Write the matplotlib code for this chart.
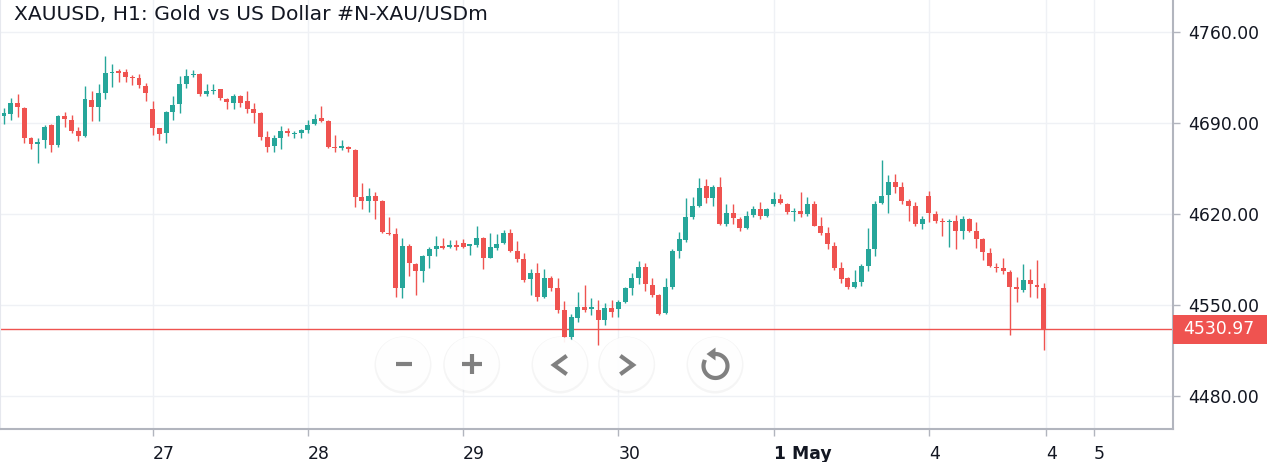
import numpy as np
import matplotlib.pyplot as plt
from matplotlib.patches import Circle, Polygon, Rectangle
from matplotlib.transforms import blended_transform_factory

# hourly XAUUSD candles
opens = [4695.4, 4696.5, 4705.4, 4701.6, 4678.0, 4673.4, 4676.7, 4688.2, 4672.9, 4695.2,
         4692.1, 4683.6, 4679.8, 4707.5, 4702.3, 4713.1, 4728.0, 4729.8, 4729.2, 4724.9,
         4724.6, 4718.2, 4700.3, 4685.7, 4681.9, 4698.5, 4704.4, 4719.8, 4726.5, 4727.5,
         4711.9, 4714.4, 4715.7, 4708.0, 4705.4, 4710.6, 4706.7, 4700.3, 4697.7, 4679.2,
         4672.1, 4678.5, 4683.6, 4681.1, 4682.3, 4684.4, 4688.8, 4693.4, 4691.3, 4671.6,
         4670.8, 4671.6, 4669.0, 4632.6, 4630.0, 4633.9, 4630.0, 4604.9, 4604.2, 4562.6,
         4595.2, 4581.1, 4575.9, 4587.5, 4592.6, 4595.2, 4594.6, 4595.9, 4597.2, 4595.4,
         4595.9, 4601.6, 4586.2, 4593.9, 4597.2, 4604.9, 4591.3, 4584.9, 4569.6, 4574.2,
         4556.2, 4570.3, 4562.6, 4545.9, 4525.4, 4539.6, 4548.5, 4546.5, 4545.9, 4538.2,
         4547.2, 4546.5, 4552.3, 4562.6, 4570.8, 4579.2, 4565.2, 4557.5, 4543.4, 4563.9,
         4591.3, 4599.8, 4617.2, 4626.2, 4641.6, 4631.9, 4640.3, 4612.1, 4620.8, 4615.7,
         4609.2, 4619.0, 4623.4, 4618.5, 4627.5, 4631.3, 4627.5, 4621.1, 4622.3, 4619.8,
         4627.5, 4610.8, 4604.9, 4595.2, 4578.0, 4570.3, 4563.9, 4567.7, 4579.8, 4592.6,
         4628.0, 4634.4, 4644.2, 4640.3, 4630.0, 4626.2, 4612.1, 4633.9, 4619.6, 4614.4,
         4613.9, 4614.4, 4606.9, 4615.7, 4606.9, 4600.3, 4590.0, 4579.2, 4578.0, 4575.4,
         4563.9, 4561.3, 4569.0, 4565.2, 4562.6]
highs = [4701.1, 4708.8, 4711.9, 4702.3, 4679.2, 4678.0, 4688.2, 4689.0, 4695.9, 4698.5,
         4695.9, 4686.9, 4718.2, 4714.6, 4719.6, 4741.6, 4735.2, 4731.1, 4731.3, 4726.7,
         4727.2, 4720.3, 4706.7, 4686.2, 4699.0, 4710.6, 4725.9, 4731.1, 4730.6, 4728.0,
         4719.6, 4719.6, 4716.2, 4709.2, 4711.9, 4711.0, 4714.4, 4705.4, 4698.2, 4683.6,
         4680.6, 4687.5, 4685.7, 4683.6, 4684.8, 4692.1, 4696.5, 4702.9, 4691.8, 4680.6,
         4676.7, 4672.1, 4669.5, 4643.4, 4640.0, 4636.9, 4630.5, 4617.2, 4609.2, 4601.6,
         4596.5, 4582.3, 4588.2, 4594.6, 4602.9, 4601.1, 4599.8, 4599.8, 4600.3, 4596.8,
         4610.6, 4602.0, 4605.4, 4604.2, 4607.5, 4608.0, 4599.0, 4589.6, 4577.2, 4581.9,
         4577.2, 4572.1, 4570.3, 4552.9, 4542.6, 4560.0, 4565.2, 4554.9, 4553.6, 4551.1,
         4553.6, 4553.6, 4563.9, 4574.2, 4583.6, 4581.9, 4570.3, 4558.0, 4570.3, 4592.6,
         4606.2, 4631.9, 4632.6, 4647.7, 4646.7, 4642.1, 4648.0, 4627.2, 4627.2, 4617.7,
         4622.1, 4625.9, 4628.8, 4624.2, 4636.5, 4634.9, 4628.5, 4624.2, 4636.5, 4632.6,
         4630.0, 4617.2, 4610.0, 4598.5, 4583.1, 4571.6, 4576.7, 4581.1, 4609.2, 4630.0,
         4661.3, 4649.8, 4650.6, 4644.2, 4631.3, 4628.8, 4618.5, 4637.7, 4622.1, 4616.9,
         4615.9, 4619.0, 4618.2, 4616.9, 4613.9, 4601.6, 4593.9, 4581.9, 4585.7, 4576.7,
         4571.6, 4581.1, 4577.2, 4584.4, 4566.5]
lows = [4689.0, 4692.1, 4694.6, 4674.6, 4669.6, 4658.8, 4670.3, 4667.7, 4671.6, 4686.9,
        4681.9, 4675.9, 4679.2, 4691.3, 4691.3, 4708.2, 4717.7, 4721.6, 4721.6, 4719.0,
        4716.5, 4706.7, 4680.6, 4676.7, 4674.6, 4692.1, 4697.7, 4716.5, 4724.9, 4710.6,
        4710.6, 4711.9, 4707.5, 4700.3, 4700.3, 4702.3, 4697.7, 4690.0, 4676.7, 4667.7,
        4667.7, 4669.6, 4679.8, 4678.5, 4678.5, 4682.3, 4688.2, 4690.8, 4670.3, 4667.7,
        4669.0, 4667.7, 4624.9, 4623.6, 4621.1, 4615.9, 4604.9, 4603.8, 4556.2, 4554.9,
        4572.1, 4557.5, 4567.7, 4578.5, 4587.5, 4592.6, 4593.4, 4592.1, 4593.4, 4588.2,
        4594.6, 4577.2, 4585.8, 4592.1, 4596.5, 4590.9, 4583.1, 4567.7, 4557.5, 4552.9,
        4554.9, 4560.6, 4543.4, 4521.3, 4522.9, 4536.9, 4544.6, 4542.1, 4519.0, 4534.4,
        4540.8, 4540.8, 4551.1, 4557.5, 4565.7, 4560.6, 4556.2, 4542.1, 4543.0, 4561.9,
        4586.2, 4598.5, 4615.9, 4624.9, 4628.0, 4626.2, 4611.7, 4610.8, 4612.1, 4606.9,
        4608.2, 4617.7, 4615.9, 4617.2, 4626.2, 4627.5, 4619.6, 4614.6, 4617.2, 4618.5,
        4610.4, 4603.6, 4592.9, 4576.7, 4566.5, 4561.9, 4562.6, 4564.4, 4575.9, 4587.5,
        4627.5, 4620.8, 4635.7, 4627.5, 4614.6, 4610.8, 4608.2, 4613.9, 4612.6, 4603.1,
        4594.2, 4592.9, 4600.3, 4605.7, 4593.9, 4584.4, 4579.2, 4574.9, 4573.4, 4526.7,
        4552.3, 4560.0, 4556.2, 4554.9, 4515.2]
closes = [4697.2, 4705.4, 4701.9, 4678.0, 4673.4, 4675.4, 4686.9, 4672.9, 4695.2, 4692.6,
          4683.6, 4679.8, 4708.0, 4701.9, 4713.1, 4728.5, 4728.5, 4728.5, 4725.4, 4724.2,
          4719.0, 4712.6, 4686.2, 4681.1, 4698.5, 4703.6, 4719.8, 4725.9, 4727.5, 4711.9,
          4714.4, 4715.2, 4708.8, 4706.2, 4710.6, 4705.4, 4700.3, 4697.7, 4679.2, 4671.6,
          4678.0, 4683.6, 4682.3, 4682.3, 4684.4, 4688.2, 4692.6, 4691.3, 4671.6, 4670.8,
          4672.1, 4669.6, 4633.1, 4630.0, 4633.9, 4630.0, 4605.7, 4604.2, 4563.1, 4595.2,
          4582.3, 4575.9, 4587.5, 4592.6, 4595.2, 4593.9, 4595.9, 4594.6, 4594.6, 4596.5,
          4601.1, 4586.2, 4594.6, 4596.5, 4605.4, 4591.3, 4584.9, 4569.0, 4574.2, 4556.2,
          4570.3, 4562.6, 4545.9, 4525.4, 4540.8, 4548.5, 4545.9, 4548.5, 4538.2, 4547.2,
          4544.6, 4552.3, 4562.6, 4570.3, 4579.2, 4565.7, 4557.5, 4542.6, 4563.9, 4591.3,
          4600.3, 4617.7, 4626.2, 4640.0, 4631.9, 4640.8, 4612.1, 4620.8, 4616.5, 4608.8,
          4618.2, 4623.4, 4618.5, 4623.4, 4631.3, 4628.0, 4621.1, 4622.3, 4619.8, 4627.5,
          4610.8, 4605.4, 4596.5, 4578.0, 4569.6, 4563.9, 4567.7, 4579.8, 4592.6, 4627.5,
          4633.9, 4644.2, 4640.8, 4630.0, 4626.2, 4612.1, 4615.7, 4620.3, 4614.4, 4613.4,
          4614.6, 4606.9, 4615.7, 4606.9, 4600.6, 4590.3, 4579.8, 4578.0, 4576.2, 4563.9,
          4562.1, 4569.0, 4565.7, 4563.4, 4530.97]

price_ticks = [4480, 4550, 4620, 4690, 4760]
date_pos = [22, 45, 68, 91, 114, 137, 154.4, 161.4]
date_labels = ['27', '28', '29', '30', '1 May', '4', '4', '5']
title = 'XAUUSD, H1: Gold vs US Dollar #N-XAU/USDm'

UP = '#26a69a'
DOWN = '#ef5350'
GRID = '#eff1f5'
AXC = '#b2b5be'

plt.rcParams['font.family'] = ['DejaVu Sans']

W, H = 1267, 462
fig = plt.figure(figsize=(W / 100, H / 100), dpi=100)
fig.patch.set_facecolor('white')
ax = fig.add_axes([0, 1 - 429.4 / H, 1173.3 / W, 429.4 / H])

o = np.array(opens); h = np.array(highs); l = np.array(lows); c = np.array(closes)
x = np.arange(len(o))
cols = np.where(c >= o, UP, DOWN)

ax.vlines(x, l, h, colors=cols, linewidth=1.0, zorder=3)
body = np.maximum(np.abs(c - o), 0.8)
ax.bar(x, body, bottom=np.minimum(o, c), width=0.72, color=cols, zorder=4, linewidth=0)

ax.set_xlim(-0.6, 173.2)
ax.set_ylim(4454.1, 4784.4)

# current price line + tag
last = closes[-1]
ax.axhline(last, color=DOWN, linewidth=1.0, zorder=2)
tr = blended_transform_factory(ax.transAxes, ax.transData)
ax.add_patch(Rectangle((1.0, last - 11.5), W / 1173.3 - 1.0, 23.0, transform=tr,
                       facecolor=DOWN, edgecolor='none', clip_on=False, zorder=6))
ax.text(1.0 + 10 / 1173.3, last, f'{last:.2f}', transform=tr, color='white',
        fontsize=12.4, ha='left', va='center', zorder=7, clip_on=False)

# axes styling
ax.yaxis.tick_right()
ax.set_yticks(price_ticks)
ax.set_yticklabels([f'{v:.2f}' for v in price_ticks])
ax.set_xticks(date_pos)
ax.set_xticklabels(date_labels)
for lab in ax.get_xticklabels():
    lab.set_horizontalalignment('left')
    if lab.get_text() == '1 May':
        lab.set_fontweight('bold')
ax.tick_params(axis='y', length=5, width=1, color=AXC, labelsize=12.4, pad=6, labelcolor='#131722')
ax.tick_params(axis='x', length=5, width=1, color=AXC, labelsize=12.4, pad=6, labelcolor='#131722')
ax.grid(True, color=GRID, linewidth=1.0, zorder=0)
ax.set_axisbelow(True)
ax.spines['top'].set_visible(False)
ax.spines['left'].set_color('#e6e8ee')
ax.spines['right'].set_color(AXC)
ax.spines['bottom'].set_color(AXC)
ax.spines['right'].set_linewidth(1.5)
ax.spines['bottom'].set_linewidth(1.5)

fig.text(14 / W, 1 - 14 / H, title, fontsize=14.6, color='#131722', ha='left', va='center')

# navigation buttons overlay (pixel space)
ov = fig.add_axes([0, 0, 1, 1])
ov.set_xlim(0, W)
ov.set_ylim(H, 0)
ov.axis('off')
ov.set_zorder(10)
gray = '#808080'
cy = 364
for cx in [403, 471.7, 560, 626.7, 715]:
    ov.add_patch(Circle((cx, cy + 1), 28.5, facecolor='black', alpha=0.04, edgecolor='none'))
    ov.add_patch(Circle((cx, cy), 27, facecolor='white', alpha=0.92, edgecolor='none'))
ov.plot([395.5, 411.5], [cy, cy], color=gray, lw=3, solid_capstyle='butt')
ov.plot([462, 482], [cy, cy], color=gray, lw=3, solid_capstyle='butt')
ov.plot([472, 472], [354, 374], color=gray, lw=3, solid_capstyle='butt')
ov.plot([565, 554, 565], [357, 365, 373], color=gray, lw=3, solid_joinstyle='miter')
ov.plot([622, 633, 622], [357, 365, 373], color=gray, lw=3, solid_joinstyle='miter')
rcx, rcy, r = 715.5, 366, 12
th = np.radians(np.linspace(95, -200, 60))
ov.plot(rcx + r * np.cos(th), rcy - r * np.sin(th), color=gray, lw=3)
ov.add_patch(Polygon([[rcx - 9, rcy - r], [rcx, rcy - r - 6.5], [rcx, rcy - r + 6.5]],
                     closed=True, facecolor=gray, edgecolor='none'))

fig.savefig('out.png', dpi=100)
